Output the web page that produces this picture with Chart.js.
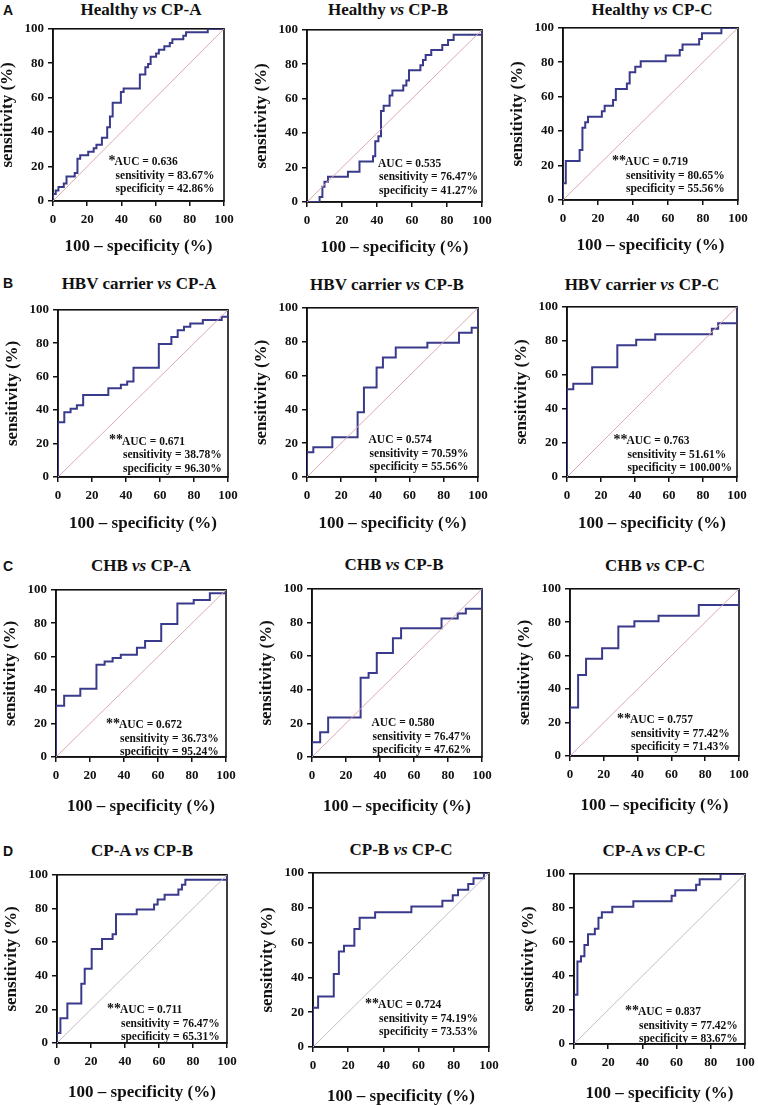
<!DOCTYPE html>
<html>
<head>
<meta charset="utf-8">
<script src="https://cdn.jsdelivr.net/npm/chart.js@4.4.0/dist/chart.umd.min.js"></script>
<style>
  html, body { margin: 0; padding: 0; background: #fff; }
  #fig { position: relative; width: 758px; height: 1105px; overflow: hidden; }
  #fig canvas { position: absolute; }
  .ttl { position: absolute; font: bold 17px "Liberation Serif", serif; color: #111;
         white-space: nowrap; line-height: 20px; transform: translate(-50%, -50%); }
  .ttl i { font-style: italic; }
  .lab { position: absolute; font: bold 14px "Liberation Sans", Arial, sans-serif; color: #111;
         line-height: 16px; transform: translate(-50%, -50%); }
</style>
</head>
<body>
<div id="fig"></div>
<script>
// ---- data ----
const axisTicks = [0, 20, 40, 60, 80, 100];
const panelLetters = ['A', 'B', 'C', 'D'];

const titleLeft  = ['Healthy', 'Healthy', 'Healthy', 'HBV carrier', 'HBV carrier', 'HBV carrier',
                    'CHB', 'CHB', 'CHB', 'CP-A', 'CP-B', 'CP-A'];
const titleRight = ['CP-A', 'CP-B', 'CP-C', 'CP-A', 'CP-B', 'CP-C',
                    'CP-A', 'CP-B', 'CP-C', 'CP-B', 'CP-C', 'CP-C'];

const aucValues  = ['0.636', '0.535', '0.719', '0.671', '0.574', '0.763',
                    '0.672', '0.580', '0.757', '0.711', '0.724', '0.837'];
const sensValues = ['83.67%', '76.47%', '80.65%', '38.78%', '70.59%', '51.61%',
                    '36.73%', '76.47%', '77.42%', '76.47%', '74.19%', '77.42%'];
const specValues = ['42.86%', '41.27%', '55.56%', '96.30%', '55.56%', '100.00%',
                    '95.24%', '47.62%', '71.43%', '65.31%', '73.53%', '83.67%'];
const aucStars   = ['*', '', '**', '**', '', '**', '**', '', '**', '**', '**', '**'];

// ROC step vertices: at each x the curve jumps up to y
const healthyCpA_x = [0, 0, 1.6, 3.2, 6.3, 7.9, 12.7, 14.3, 15.9, 20.6, 23.8, 25.4, 28.6, 31.7, 33.3, 34.9,
                      39.7, 41.3, 50.8, 54.0, 55.6, 57.1, 60.3, 61.9, 65.1, 68.3, 69.8, 76.2, 77.8, 90.5, 100];
const healthyCpA_y = [0, 4.1, 6.1, 8.2, 10.2, 14.3, 16.3, 24.5, 26.5, 28.6, 30.6, 32.7, 36.7, 42.9, 49.0, 57.1,
                      63.3, 65.3, 73.5, 77.6, 79.6, 83.7, 85.7, 87.8, 89.8, 91.8, 93.9, 95.9, 98.0, 100, 100];

const healthyCpB_x = [0, 7.2, 8.8, 10.0, 12.0, 23.4, 30.0, 37.7, 39.0, 40.8, 42.3, 43.8, 47.2, 48.8, 55.0,
                      56.8, 58.3, 64.8, 66.3, 67.8, 71.0, 77.3, 80.6, 83.8, 100];
const healthyCpB_y = [0, 2.9, 8.8, 11.8, 14.7, 17.6, 23.5, 26.5, 35.3, 38.2, 52.9, 55.9, 61.8, 64.7, 67.6,
                      70.6, 76.5, 79.4, 82.4, 85.3, 88.2, 91.2, 94.1, 97.1, 100];

const healthyCpC_x = [0, 0, 1.6, 9.5, 11.1, 12.7, 14.3, 22.2, 23.8, 28.6, 30.2, 36.5, 38.1, 41.3, 44.4,
                      58.7, 66.7, 68.3, 77.8, 79.4, 90.5, 100];
const healthyCpC_y = [0, 9.7, 22.6, 29.0, 41.9, 45.2, 48.4, 51.6, 54.8, 58.1, 64.5, 67.7, 74.2, 77.4, 80.6,
                      83.9, 87.1, 90.3, 93.5, 96.8, 100, 100];

const hbvCpA_x = [0, 0, 3.7, 7.4, 11.1, 14.8, 29.6, 37.0, 40.7, 44.4, 59.3, 66.7, 70.4, 74.1, 77.8, 85.2, 96.3, 100];
const hbvCpA_y = [0, 32.7, 38.8, 40.8, 42.9, 49.0, 53.1, 55.1, 57.1, 65.3, 79.6, 83.7, 87.8, 89.8, 91.8, 93.9, 95.9, 100];

const hbvCpB_x = [0, 0, 3.7, 14.8, 29.6, 33.3, 40.7, 44.4, 51.9, 70.4, 88.9, 96.3, 100];
const hbvCpB_y = [0, 14.7, 17.6, 23.5, 38.2, 52.9, 64.7, 70.6, 76.5, 79.4, 85.3, 88.2, 100];

const hbvCpC_x = [0, 0, 3.7, 14.8, 29.6, 40.7, 51.9, 85.2, 88.9, 100];
const hbvCpC_y = [0, 51.6, 54.8, 64.5, 77.4, 80.6, 83.9, 87.1, 90.3, 100];

const chbCpA_x = [0, 0, 4.8, 14.3, 23.8, 28.6, 33.3, 38.1, 47.6, 52.4, 61.9, 71.4, 81.0, 90.5, 100];
const chbCpA_y = [0, 30.6, 36.7, 40.8, 55.1, 57.1, 59.2, 61.2, 65.3, 69.4, 79.6, 91.8, 93.9, 98.0, 100];

const chbCpB_x = [0, 0, 4.8, 9.5, 28.6, 33.3, 38.1, 47.6, 52.4, 76.2, 85.7, 90.5, 100];
const chbCpB_y = [0, 8.8, 14.7, 23.5, 47.1, 50.0, 61.8, 70.6, 76.5, 82.4, 85.3, 88.2, 100];

const chbCpC_x = [0, 0, 4.8, 9.5, 19.0, 28.6, 38.1, 52.4, 76.2, 100];
const chbCpC_y = [0, 29.0, 48.4, 58.1, 64.5, 77.4, 80.6, 83.9, 90.3, 100];

const cpaCpB_x = [0, 0, 2.0, 6.1, 14.3, 16.3, 20.4, 26.5, 32.7, 34.7, 46.9, 57.1, 59.2, 63.3, 71.4, 73.5, 75.5, 100];
const cpaCpB_y = [0, 5.9, 14.7, 23.5, 35.3, 44.1, 55.9, 61.8, 64.7, 76.5, 79.4, 82.4, 85.3, 88.2, 91.2, 94.1, 97.1, 100];

const cpbCpC_x = [0, 0, 2.9, 11.8, 14.7, 17.6, 23.5, 26.5, 35.3, 55.9, 73.5, 79.4, 82.4, 88.2, 91.2, 97.1, 100];
const cpbCpC_y = [0, 22.6, 29.0, 41.9, 54.8, 58.1, 67.7, 74.2, 77.4, 80.6, 83.9, 87.1, 90.3, 93.5, 96.8, 100, 100];

const cpaCpC_x = [0, 0, 2.0, 4.1, 6.1, 8.2, 12.2, 14.3, 16.3, 22.4, 34.7, 57.1, 59.2, 71.4, 73.5, 85.7, 100];
const cpaCpC_y = [0, 29.0, 48.4, 51.6, 58.1, 64.5, 67.7, 74.2, 77.4, 80.6, 83.9, 87.1, 90.3, 93.5, 96.8, 100, 100];

const curveX = [healthyCpA_x, healthyCpB_x, healthyCpC_x, hbvCpA_x, hbvCpB_x, hbvCpC_x,
                chbCpA_x, chbCpB_x, chbCpC_x, cpaCpB_x, cpbCpC_x, cpaCpC_x];
const curveY = [healthyCpA_y, healthyCpB_y, healthyCpC_y, hbvCpA_y, hbvCpB_y, hbvCpC_y,
                chbCpA_y, chbCpB_y, chbCpC_y, cpaCpB_y, cpbCpC_y, cpaCpC_y];

// ---- layout (pixels) ----
// plot area: left, top, width, height
const plotBoxes = [
  [53, 27, 171, 174], [307, 28, 175, 174], [563, 26, 175, 174],
  [58, 308, 170, 169], [307, 306, 171, 171], [567, 305, 170, 172],
  [56, 588, 170, 169], [312, 587, 170, 170], [570, 587, 169, 169],
  [57, 873, 170, 170], [313, 871, 176, 176], [574, 872, 171, 172]
];
const titlePos = [
  [141, 10], [388, 10], [652, 10],
  [139, 284], [387, 285], [642, 285],
  [141, 566], [394, 565], [655, 566],
  [142, 851], [401, 850], [654, 851]
];
const letterPos = [[8, 10], [8, 283], [8, 566], [8, 851]];
const xTitleGap = [46, 46, 46, 47, 47, 47, 50, 50, 50, 50, 50, 50];
// where the AUC line starts, in axis units
const notePos = [
  [36, 22.4], [40.6, 22.2], [35.4, 22],
  [37.6, 21], [36, 21.6], [35, 21],
  [37, 19], [35, 20], [35.5, 21.3],
  [37, 19.5], [37, 24], [37.4, 18.6]
];
const diagColors = ['#dcaab0', '#dcaab0', '#dcaab0', '#c4bccb'];

const serif = '"Liberation Serif", "Times New Roman", serif';

const framePlugin = {
  id: 'frame',
  beforeDatasetsDraw(chart) {
    const { ctx, chartArea: a } = chart;
    ctx.save();
    ctx.strokeStyle = '#111';
    ctx.lineWidth = 1.6;
    ctx.strokeRect(a.left, a.top, a.right - a.left, a.bottom - a.top);
    ctx.restore();
  }
};

const notePlugin = {
  id: 'rocNote',
  afterDatasetsDraw(chart, args, opts) {
    const { ctx, scales } = chart;
    const px = scales.x.getPixelForValue(opts.at[0]);
    const py = scales.y.getPixelForValue(opts.at[1]);
    ctx.save();
    ctx.fillStyle = '#111';
    ctx.textBaseline = 'middle';
    ctx.textAlign = 'left';
    ctx.font = 'bold 11.5px ' + serif;
    ctx.fillText('AUC = ' + opts.auc, px, py);
    ctx.fillText('sensitivity = ' + opts.sens, px + 1, py + 13.5);
    ctx.fillText('specificity = ' + opts.spec, px + 1, py + 27);
    if (opts.stars) {
      ctx.textAlign = 'right';
      ctx.font = 'bold 14px ' + serif;
      ctx.fillText(opts.stars, px + 1, py - 1);
    }
    ctx.restore();
  }
};

const fig = document.getElementById('fig');

letterPos.forEach((p, r) => {
  const d = document.createElement('div');
  d.className = 'lab';
  d.style.left = p[0] + 'px';
  d.style.top = p[1] + 'px';
  d.textContent = panelLetters[r];
  fig.appendChild(d);
});

plotBoxes.forEach((box, i) => {
  const [L, T, W, H] = box;
  const padL = 56, padT = 10, padR = 22;
  const padB = xTitleGap[i] + 10;

  const t = document.createElement('div');
  t.className = 'ttl';
  t.style.left = titlePos[i][0] + 'px';
  t.style.top = titlePos[i][1] + 'px';
  t.innerHTML = titleLeft[i] + ' <i>vs</i> ' + titleRight[i];
  fig.appendChild(t);

  const cv = document.createElement('canvas');
  cv.width = W + padL + padR;
  cv.height = H + padT + padB;
  cv.style.left = (L - padL) + 'px';
  cv.style.top = (T - padT) + 'px';
  fig.appendChild(cv);

  const tickFont = { family: serif, size: 13, weight: 'bold' };
  const axisFont = { family: serif, size: 17, weight: 'bold' };
  const axisCommon = {
    type: 'linear',
    min: 0,
    max: 100,
    afterBuildTicks: s => { s.ticks = axisTicks.map(v => ({ value: v })); },
    grid: { drawOnChartArea: false, color: '#111', lineWidth: 1.5, tickLength: 5 },
    border: { color: '#111', width: 1.6 },
  };

  new Chart(cv, {
    type: 'line',
    data: {
      datasets: [
        {
          data: [{ x: 0, y: 0 }, { x: 100, y: 100 }],
          borderColor: diagColors[Math.floor(i / 3)],
          borderWidth: 1,
          pointRadius: 0,
        },
        {
          data: curveX[i].map((x, k) => ({ x: x, y: curveY[i][k] })),
          stepped: true,
          borderColor: '#3a3a8c',
          borderWidth: 2,
          pointRadius: 0,
        },
      ],
    },
    options: {
      responsive: false,
      animation: false,
      events: [],
      layout: { padding: { top: padT, right: padR, left: 0, bottom: 0 } },
      plugins: {
        legend: { display: false },
        tooltip: { enabled: false },
        rocNote: {
          at: notePos[i],
          auc: aucValues[i],
          sens: sensValues[i],
          spec: specValues[i],
          stars: aucStars[i],
        },
      },
      scales: {
        x: {
          ...axisCommon,
          afterFit: s => { s.height = padB; },
          ticks: { font: tickFont, color: '#111', padding: 6, maxRotation: 0 },
          title: { display: true, text: '100 – specificity (%)', font: axisFont, color: '#111', padding: 0 },
        },
        y: {
          ...axisCommon,
          afterFit: s => { s.width = padL; },
          ticks: { font: tickFont, color: '#111', padding: 4 },
          title: { display: true, text: 'sensitivity (%)', font: axisFont, color: '#111', padding: 0 },
        },
      },
    },
    plugins: [framePlugin, notePlugin],
  });
});
</script>
</body>
</html>
